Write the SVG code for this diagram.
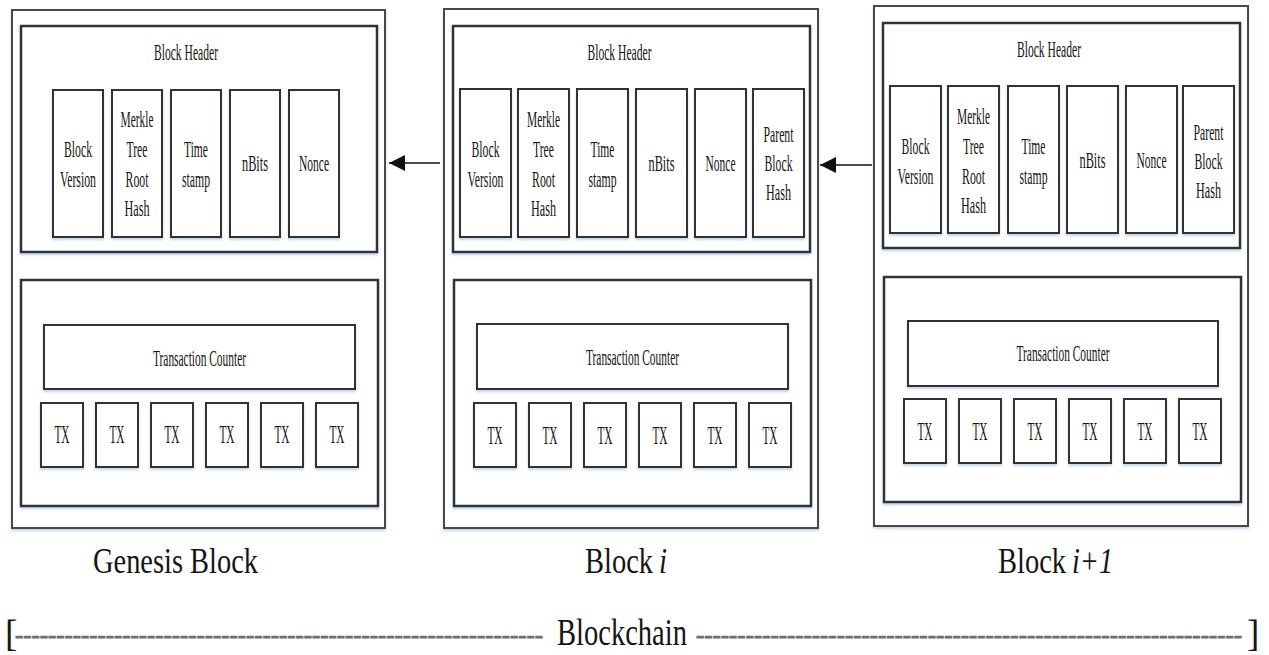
<svg xmlns="http://www.w3.org/2000/svg" width="1269" height="655" viewBox="0 0 1269 655">
<style>
  text { font-family: "Liberation Serif", "Times New Roman", serif; fill: #151515; }
  .outer { fill: #fff; stroke: #4a4a4a; stroke-width: 2; }
  .sect { fill: #fff; stroke: #333; stroke-width: 2.5; }
  .box { fill: #fff; stroke: #333; stroke-width: 2; }
  .f { font-size: 23px; text-anchor: middle; }
  .tx { font-size: 25px; text-anchor: middle; }
  .lbl { font-size: 35px; }
  .it { font-style: italic; }
  .big { font-size: 37px; }
  .dash { font-size: 25px; fill: #6e6e6e; stroke: #6e6e6e; stroke-width: 0.9; }
  .conn { stroke: #111; stroke-width: 1.6; fill: none; }
</style>
<defs>
  <filter id="sh" x="-5%" y="-5%" width="110%" height="115%">
    <feDropShadow dx="0" dy="2" stdDeviation="0.8" flood-color="#8fb4dc" flood-opacity="0.55"/>
  </filter>
  <marker id="ah" markerUnits="userSpaceOnUse" markerWidth="18" markerHeight="18" refX="16" refY="8" orient="auto">
    <path d="M0,0 L16,8 L0,16 Z" fill="#111"/>
  </marker>
</defs>
<rect width="1269" height="655" fill="#fff"/>

<!-- Genesis Block -->
<g id="genesis-block">
  <rect class="outer" x="12" y="10" width="373" height="518" filter="url(#sh)"/>
  <g id="genesis-header">
    <rect class="sect" x="21" y="26" width="356" height="226" filter="url(#sh)"/>
    <text class="f" x="186" y="60" textLength="64" lengthAdjust="spacingAndGlyphs">Block Header</text>
    <g filter="url(#sh)">
      <rect class="box" x="53" y="90" width="50" height="147"/>
      <rect class="box" x="112" y="90" width="50" height="147"/>
      <rect class="box" x="171" y="90" width="50" height="147"/>
      <rect class="box" x="230" y="90" width="50" height="147"/>
      <rect class="box" x="289" y="90" width="50" height="147"/>
    </g>
    <text class="f" x="78" y="157" textLength="28" lengthAdjust="spacingAndGlyphs">Block</text>
    <text class="f" x="78" y="187" textLength="36" lengthAdjust="spacingAndGlyphs">Version</text>
    <text class="f" x="137" y="127" textLength="33" lengthAdjust="spacingAndGlyphs">Merkle</text>
    <text class="f" x="137" y="157" textLength="21" lengthAdjust="spacingAndGlyphs">Tree</text>
    <text class="f" x="137" y="187" textLength="23" lengthAdjust="spacingAndGlyphs">Root</text>
    <text class="f" x="137" y="216" textLength="25" lengthAdjust="spacingAndGlyphs">Hash</text>
    <text class="f" x="196" y="157" textLength="24" lengthAdjust="spacingAndGlyphs">Time</text>
    <text class="f" x="196" y="187" textLength="28" lengthAdjust="spacingAndGlyphs">stamp</text>
    <text class="f" x="255" y="171" textLength="26" lengthAdjust="spacingAndGlyphs">nBits</text>
    <text class="f" x="314" y="171" textLength="30" lengthAdjust="spacingAndGlyphs">Nonce</text>
  </g>
  <g id="genesis-body">
    <rect class="sect" x="21" y="280" width="357" height="226" filter="url(#sh)"/>
    <rect class="box" x="44" y="325" width="311" height="64" filter="url(#sh)"/>
    <text class="f" x="199.5" y="366" textLength="93" lengthAdjust="spacingAndGlyphs">Transaction Counter</text>
    <g filter="url(#sh)">
      <rect class="box" x="41" y="403" width="42" height="64"/>
      <rect class="box" x="96" y="403" width="42" height="64"/>
      <rect class="box" x="151" y="403" width="42" height="64"/>
      <rect class="box" x="206" y="403" width="42" height="64"/>
      <rect class="box" x="261" y="403" width="42" height="64"/>
      <rect class="box" x="316" y="403" width="42" height="64"/>
    </g>
    <text class="tx" x="62" y="443" textLength="15" lengthAdjust="spacingAndGlyphs">TX</text>
    <text class="tx" x="117" y="443" textLength="15" lengthAdjust="spacingAndGlyphs">TX</text>
    <text class="tx" x="172" y="443" textLength="15" lengthAdjust="spacingAndGlyphs">TX</text>
    <text class="tx" x="227" y="443" textLength="15" lengthAdjust="spacingAndGlyphs">TX</text>
    <text class="tx" x="282" y="443" textLength="15" lengthAdjust="spacingAndGlyphs">TX</text>
    <text class="tx" x="337" y="443" textLength="15" lengthAdjust="spacingAndGlyphs">TX</text>
  </g>
  <text class="lbl" x="93" y="573" textLength="165" lengthAdjust="spacingAndGlyphs">Genesis Block</text>
</g>

<!-- Block i -->
<g id="block-i">
  <rect class="outer" x="444" y="9" width="374" height="519" filter="url(#sh)"/>
  <g id="block-i-header">
    <rect class="sect" x="453" y="26" width="357" height="226" filter="url(#sh)"/>
    <text class="f" x="619.5" y="60" textLength="64" lengthAdjust="spacingAndGlyphs">Block Header</text>
    <g filter="url(#sh)">
      <rect class="box" x="460" y="89" width="51" height="148"/>
      <rect class="box" x="518" y="89" width="51" height="148"/>
      <rect class="box" x="577" y="89" width="51" height="148"/>
      <rect class="box" x="636" y="89" width="51" height="148"/>
      <rect class="box" x="695" y="89" width="51" height="148"/>
      <rect class="box" x="753" y="89" width="51" height="148"/>
    </g>
    <text class="f" x="485.5" y="157" textLength="28" lengthAdjust="spacingAndGlyphs">Block</text>
    <text class="f" x="485.5" y="187" textLength="36" lengthAdjust="spacingAndGlyphs">Version</text>
    <text class="f" x="543.5" y="127" textLength="33" lengthAdjust="spacingAndGlyphs">Merkle</text>
    <text class="f" x="543.5" y="157" textLength="21" lengthAdjust="spacingAndGlyphs">Tree</text>
    <text class="f" x="543.5" y="187" textLength="23" lengthAdjust="spacingAndGlyphs">Root</text>
    <text class="f" x="543.5" y="216" textLength="25" lengthAdjust="spacingAndGlyphs">Hash</text>
    <text class="f" x="602.5" y="157" textLength="24" lengthAdjust="spacingAndGlyphs">Time</text>
    <text class="f" x="602.5" y="187" textLength="28" lengthAdjust="spacingAndGlyphs">stamp</text>
    <text class="f" x="661.5" y="171" textLength="26" lengthAdjust="spacingAndGlyphs">nBits</text>
    <text class="f" x="720.5" y="171" textLength="30" lengthAdjust="spacingAndGlyphs">Nonce</text>
    <text class="f" x="778.5" y="142" textLength="30" lengthAdjust="spacingAndGlyphs">Parent</text>
    <text class="f" x="778.5" y="171" textLength="28" lengthAdjust="spacingAndGlyphs">Block</text>
    <text class="f" x="778.5" y="200" textLength="25" lengthAdjust="spacingAndGlyphs">Hash</text>
  </g>
  <g id="block-i-body">
    <rect class="sect" x="454" y="280" width="357" height="226" filter="url(#sh)"/>
    <rect class="box" x="477" y="324" width="311" height="65" filter="url(#sh)"/>
    <text class="f" x="632.5" y="365" textLength="93" lengthAdjust="spacingAndGlyphs">Transaction Counter</text>
    <g filter="url(#sh)">
      <rect class="box" x="474" y="403" width="42" height="64"/>
      <rect class="box" x="529" y="403" width="42" height="64"/>
      <rect class="box" x="584" y="403" width="42" height="64"/>
      <rect class="box" x="639" y="403" width="42" height="64"/>
      <rect class="box" x="694" y="403" width="42" height="64"/>
      <rect class="box" x="749" y="403" width="42" height="64"/>
    </g>
    <text class="tx" x="495" y="444" textLength="15" lengthAdjust="spacingAndGlyphs">TX</text>
    <text class="tx" x="550" y="444" textLength="15" lengthAdjust="spacingAndGlyphs">TX</text>
    <text class="tx" x="605" y="444" textLength="15" lengthAdjust="spacingAndGlyphs">TX</text>
    <text class="tx" x="660" y="444" textLength="15" lengthAdjust="spacingAndGlyphs">TX</text>
    <text class="tx" x="715" y="444" textLength="15" lengthAdjust="spacingAndGlyphs">TX</text>
    <text class="tx" x="770" y="444" textLength="15" lengthAdjust="spacingAndGlyphs">TX</text>
  </g>
  <text class="lbl" x="585" y="573" textLength="68" lengthAdjust="spacingAndGlyphs">Block</text>
  <text class="lbl it" x="659" y="573" textLength="8" lengthAdjust="spacingAndGlyphs">i</text>
</g>

<!-- Block i+1 -->
<g id="block-i-plus-1">
  <rect class="outer" x="874" y="6" width="374" height="520" filter="url(#sh)"/>
  <g id="block-i-plus-1-header">
    <rect class="sect" x="883" y="23" width="357" height="225" filter="url(#sh)"/>
    <text class="f" x="1049" y="57" textLength="64" lengthAdjust="spacingAndGlyphs">Block Header</text>
    <g filter="url(#sh)">
      <rect class="box" x="890" y="86" width="51" height="147"/>
      <rect class="box" x="948" y="86" width="51" height="147"/>
      <rect class="box" x="1008" y="86" width="51" height="147"/>
      <rect class="box" x="1067" y="86" width="51" height="147"/>
      <rect class="box" x="1126" y="86" width="51" height="147"/>
      <rect class="box" x="1183" y="86" width="51" height="147"/>
    </g>
    <text class="f" x="915.5" y="154" textLength="28" lengthAdjust="spacingAndGlyphs">Block</text>
    <text class="f" x="915.5" y="184" textLength="36" lengthAdjust="spacingAndGlyphs">Version</text>
    <text class="f" x="973.5" y="124" textLength="33" lengthAdjust="spacingAndGlyphs">Merkle</text>
    <text class="f" x="973.5" y="154" textLength="21" lengthAdjust="spacingAndGlyphs">Tree</text>
    <text class="f" x="973.5" y="184" textLength="23" lengthAdjust="spacingAndGlyphs">Root</text>
    <text class="f" x="973.5" y="213" textLength="25" lengthAdjust="spacingAndGlyphs">Hash</text>
    <text class="f" x="1033.5" y="154" textLength="24" lengthAdjust="spacingAndGlyphs">Time</text>
    <text class="f" x="1033.5" y="184" textLength="28" lengthAdjust="spacingAndGlyphs">stamp</text>
    <text class="f" x="1092.5" y="168" textLength="26" lengthAdjust="spacingAndGlyphs">nBits</text>
    <text class="f" x="1151.5" y="168" textLength="30" lengthAdjust="spacingAndGlyphs">Nonce</text>
    <text class="f" x="1208.5" y="140" textLength="30" lengthAdjust="spacingAndGlyphs">Parent</text>
    <text class="f" x="1208.5" y="169" textLength="28" lengthAdjust="spacingAndGlyphs">Block</text>
    <text class="f" x="1208.5" y="198" textLength="25" lengthAdjust="spacingAndGlyphs">Hash</text>
  </g>
  <g id="block-i-plus-1-body">
    <rect class="sect" x="884" y="277" width="357" height="225" filter="url(#sh)"/>
    <rect class="box" x="908" y="321" width="310" height="65" filter="url(#sh)"/>
    <text class="f" x="1063" y="361" textLength="93" lengthAdjust="spacingAndGlyphs">Transaction Counter</text>
    <g filter="url(#sh)">
      <rect class="box" x="904" y="399" width="42" height="64"/>
      <rect class="box" x="959" y="399" width="42" height="64"/>
      <rect class="box" x="1014" y="399" width="42" height="64"/>
      <rect class="box" x="1069" y="399" width="42" height="64"/>
      <rect class="box" x="1124" y="399" width="42" height="64"/>
      <rect class="box" x="1179" y="399" width="42" height="64"/>
    </g>
    <text class="tx" x="925" y="440" textLength="15" lengthAdjust="spacingAndGlyphs">TX</text>
    <text class="tx" x="980" y="440" textLength="15" lengthAdjust="spacingAndGlyphs">TX</text>
    <text class="tx" x="1035" y="440" textLength="15" lengthAdjust="spacingAndGlyphs">TX</text>
    <text class="tx" x="1090" y="440" textLength="15" lengthAdjust="spacingAndGlyphs">TX</text>
    <text class="tx" x="1145" y="440" textLength="15" lengthAdjust="spacingAndGlyphs">TX</text>
    <text class="tx" x="1200" y="440" textLength="15" lengthAdjust="spacingAndGlyphs">TX</text>
  </g>
  <text class="lbl" x="998" y="573" textLength="68" lengthAdjust="spacingAndGlyphs">Block</text>
  <text class="lbl it" x="1072" y="573" textLength="41" lengthAdjust="spacingAndGlyphs">i+1</text>
</g>

<!-- Connectors -->
<g id="connectors">
  <line class="conn" x1="440" y1="163" x2="389" y2="163" marker-end="url(#ah)"/>
  <line class="conn" x1="872" y1="165" x2="820" y2="165" marker-end="url(#ah)"/>
</g>

<!-- Blockchain span -->
<g id="blockchain-label">
  <text class="big" x="5" y="646">[</text>
  <text class="dash" x="15" y="643" textLength="528" lengthAdjust="spacingAndGlyphs">----------------------------------------------------------------</text>
  <text class="big" x="557" y="645" textLength="130" lengthAdjust="spacingAndGlyphs">Blockchain</text>
  <text class="dash" x="696" y="643" textLength="546" lengthAdjust="spacingAndGlyphs">------------------------------------------------------------------</text>
  <text class="big" x="1247" y="646">]</text>
</g>
</svg>
